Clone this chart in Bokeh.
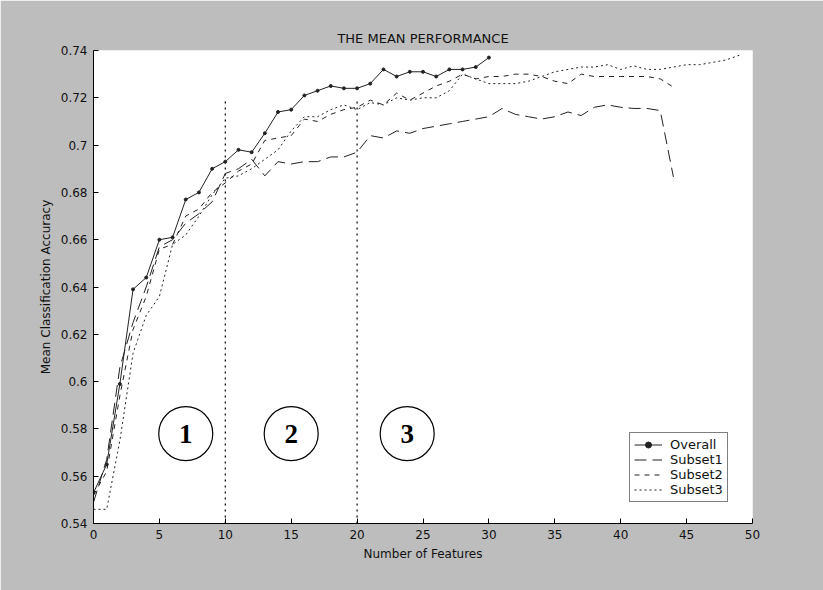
from bokeh.plotting import figure
from bokeh.models import Range1d, FixedTicker, CustomJSTickFormatter, Legend, LegendItem
from bokeh.core.properties import value
from bokeh.embed import file_html
from bokeh.resources import INLINE

# ---- data ----
x_overall = list(range(0, 31))
overall = [0.553, 0.565, 0.599, 0.639, 0.644, 0.660, 0.661, 0.677, 0.680, 0.690, 0.693,
           0.698, 0.697, 0.705, 0.714, 0.715, 0.721, 0.723, 0.725, 0.724, 0.724,
           0.726, 0.732, 0.729, 0.731, 0.731, 0.729, 0.732, 0.732, 0.733, 0.737]

x_subset1 = list(range(0, 45))
subset1 = [0.549, 0.567, 0.606, 0.625, 0.640, 0.657, 0.660, 0.667, 0.671, 0.676, 0.688,
           0.690, 0.694, 0.687, 0.693, 0.692, 0.693, 0.693, 0.695, 0.695, 0.697,
           0.704, 0.703, 0.706, 0.705, 0.707, 0.708, 0.709, 0.710, 0.711, 0.712,
           0.7155, 0.713, 0.712, 0.711, 0.712, 0.714, 0.7125, 0.716, 0.717, 0.716,
           0.7155, 0.7155, 0.7146, 0.6865]

x_subset2 = list(range(0, 45))
subset2 = [0.552, 0.562, 0.594, 0.622, 0.636, 0.656, 0.658, 0.670, 0.673, 0.680, 0.684,
           0.689, 0.692, 0.702, 0.703, 0.704, 0.711, 0.710, 0.713, 0.715, 0.716,
           0.719, 0.717, 0.722, 0.719, 0.722, 0.725, 0.727, 0.730, 0.728, 0.729,
           0.729, 0.730, 0.730, 0.729, 0.727, 0.726, 0.730, 0.729, 0.729, 0.729,
           0.729, 0.729, 0.728, 0.7245]

x_subset3 = list(range(0, 50))
subset3 = [0.546, 0.546, 0.575, 0.612, 0.628, 0.636, 0.658, 0.662, 0.670, 0.679, 0.686,
           0.687, 0.690, 0.694, 0.698, 0.706, 0.712, 0.712, 0.715, 0.717, 0.715,
           0.718, 0.717, 0.720, 0.719, 0.720, 0.720, 0.723, 0.730, 0.728, 0.726,
           0.726, 0.726, 0.727, 0.729, 0.731, 0.732, 0.733, 0.733, 0.734, 0.732,
           0.7335, 0.732, 0.732, 0.733, 0.734, 0.734, 0.735, 0.736, 0.738]

x_ticks = [0, 5, 10, 15, 20, 25, 30, 35, 40, 45, 50]
y_ticks = [0.54, 0.56, 0.58, 0.60, 0.62, 0.64, 0.66, 0.68, 0.70, 0.72, 0.74]

# region dividers and region markers
divider_x = [10, 20]
divider_bottom = [0.54, 0.54]
divider_top = [0.72, 0.72]
region_x = [7.0, 15.0, 23.8]
region_y = [0.578, 0.578, 0.578]
region_labels = ["1", "2", "3"]

GREY = "#bdbdbd"
FONT = "DejaVu Sans"

p = figure(width=823, height=590, output_backend="svg", toolbar_location=None,
           x_range=Range1d(0, 50), y_range=Range1d(0.54, 0.74),
           min_border_left=93, min_border_right=71, min_border_top=50, min_border_bottom=67,
           title="THE MEAN PERFORMANCE")

p.background_fill_color = "white"
p.border_fill_color = GREY
p.outline_line_color = None
p.grid.visible = False

p.title.align = "center"
p.title.text_font = FONT
p.title.text_font_size = "13px"
p.title.text_font_style = "normal"
p.title.text_color = "#111111"

for ax in (p.xaxis[0], p.yaxis[0]):
    ax.major_tick_in = 5
    ax.major_tick_out = 0
    ax.minor_tick_line_color = None
    ax.axis_line_color = "black"
    ax.major_tick_line_color = "black"
    ax.major_label_text_font = FONT
    ax.major_label_text_font_size = "12px"
    ax.major_label_text_color = "#111111"
    ax.axis_label_text_font = FONT
    ax.axis_label_text_font_size = "12px"
    ax.axis_label_text_font_style = "normal"
    ax.axis_label_text_color = "#111111"
    ax.major_label_standoff = 6

p.xaxis.ticker = FixedTicker(ticks=x_ticks)
p.yaxis.ticker = FixedTicker(ticks=y_ticks)
p.yaxis.formatter = CustomJSTickFormatter(code="return tick.toFixed(2).replace(/0$/, '');")
p.xaxis.axis_label = "Number of Features"
p.yaxis.axis_label = "Mean Classification Accuracy"
p.xaxis.axis_label_standoff = 5
p.yaxis.axis_label_standoff = 5

# divider lines
p.segment(x0=divider_x, y0=divider_bottom, x1=divider_x, y1=divider_top,
          line_color="black", line_width=1.2, line_dash="2 4")

# region markers
p.scatter(x=region_x, y=region_y, marker="circle", size=54,
          fill_color=None, line_color="black", line_width=1.2)
p.text(x=region_x, y=region_y, text=region_labels, text_align="center",
       text_baseline="middle", text_font=value("Liberation Serif"),
       text_font_size="27px", text_font_style="bold", text_color="black")

# series
LINE = "#222222"
r_o = p.line(x_overall, overall, line_color=LINE, line_width=1)
r_om = p.scatter(x_overall, overall, marker="circle", size=3,
                 fill_color=LINE, line_color=LINE)
r_1 = p.line(x_subset1, subset1, line_color=LINE, line_width=1, line_dash="12 6")
r_2 = p.line(x_subset2, subset2, line_color=LINE, line_width=1, line_dash="5 5")
r_3 = p.line(x_subset3, subset3, line_color=LINE, line_width=1, line_dash="2 3")

legend = Legend(items=[
    LegendItem(label="Overall", renderers=[r_o, r_om]),
    LegendItem(label="Subset1", renderers=[r_1]),
    LegendItem(label="Subset2", renderers=[r_2]),
    LegendItem(label="Subset3", renderers=[r_3]),
], location=(536, 21))
legend.label_text_font = FONT
legend.label_text_font_size = "13px"
legend.label_text_color = "#111111"
legend.label_height = 15
legend.glyph_height = 15
legend.glyph_width = 28
legend.spacing = 0
legend.padding = 4
legend.margin = 0
legend.label_standoff = 8
legend.border_line_color = "black"
legend.border_line_width = 1
legend.background_fill_color = "white"
legend.background_fill_alpha = 1
p.add_layout(legend)

open("out.html", "w").write(file_html(p, INLINE))
